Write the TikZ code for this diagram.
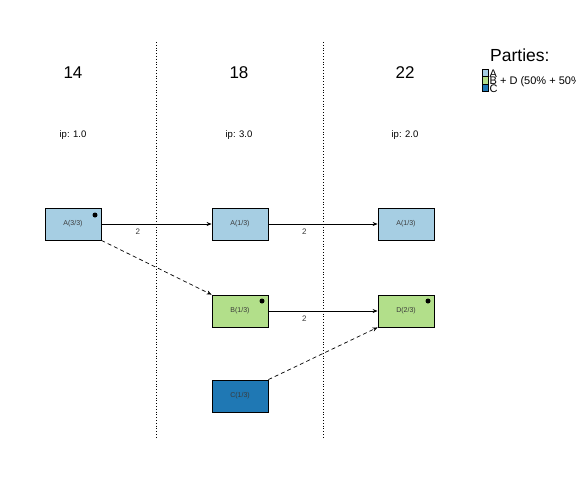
\documentclass[tikz,border=0pt]{standalone}
\usepackage{fontspec}
\setmainfont{Liberation Sans}
\usetikzlibrary{arrows.meta}
\definecolor{cA}{HTML}{A6CEE3}
\definecolor{cB}{HTML}{B2DF8A}
\definecolor{cC}{HTML}{1F78B4}
\definecolor{lbl}{HTML}{3A3A3A}
\begin{document}
\begin{tikzpicture}[x=1pt,y=-1pt,
  party/.style={draw=black, line width=0.8pt, minimum width=56pt, minimum height=32pt, inner sep=0pt, font=\fontsize{7}{8}\selectfont, text=lbl},
  hdr/.style={font=\fontsize{17}{18}\selectfont},
  ipl/.style={font=\fontsize{9.5}{11}\selectfont},
  divider/.style={dotted, line width=0.8pt},
  flow/.style={-{Stealth[length=5pt,width=4pt]}, line width=0.7pt},
  dflow/.style={-{Stealth[length=5pt,width=4pt]}, line width=0.7pt, dash pattern=on 4pt off 3pt},
  elbl/.style={font=\fontsize{8}{9}\selectfont, text=lbl},
  dotmark/.style={circle, fill=black, inner sep=0pt, minimum size=5pt},
  legsq/.style={draw=black, line width=0.6pt, minimum width=6pt, minimum height=7.3pt, inner sep=0pt},
  legtx/.style={font=\fontsize{11}{11}\selectfont, anchor=west, inner sep=0pt}
]
\useasboundingbox (0,0) rectangle (576,480);
\fill[white] (0,0) rectangle (576,480);

% dividers
\coordinate (d1t) at (156,42); \coordinate (d1b) at (156,438);
\coordinate (d2t) at (323,42); \coordinate (d2b) at (323,438);
\draw[divider] (d1t) -- (d1b);
\draw[divider] (d2t) -- (d2b);

% headers
\node[hdr] (h1) at (73,73) {14};
\node[hdr] (h2) at (239,73) {18};
\node[hdr] (h3) at (405,73) {22};
\node[ipl] (i1) at (73,135) {ip: 1.0};
\node[ipl] (i2) at (239,135) {ip: 3.0};
\node[ipl] (i3) at (405,135) {ip: 2.0};

% boxes
\node[party, fill=cA] (a1) at (73,224) {A(3/3)};
\node[party, fill=cA] (a2) at (240,224) {A(1/3)};
\node[party, fill=cA] (a3) at (406,224) {A(1/3)};
\node[party, fill=cB] (b2) at (240,311) {B(1/3)};
\node[party, fill=cB] (d3) at (406,311) {D(2/3)};
\node[party, fill=cC] (c2) at (240,396) {C(1/3)};

\node[dotmark] (m1) at (95,215) {};
\node[dotmark] (m2) at (262,301) {};
\node[dotmark] (m3) at (428,301) {};

% connectors
\draw[flow] (a1.east) -- (a2.west) node[elbl, pos=0.33, below=1.5pt] (l1) {2};
\draw[flow] (a2.east) -- (a3.west) node[elbl, pos=0.33, below=1.5pt] (l2) {2};
\draw[flow] (b2.east) -- (d3.west) node[elbl, pos=0.33, below=1.5pt] (l3) {2};
\draw[dflow] (a1.south east) -- (b2.north west);
\draw[dflow] (c2.north east) -- (d3.south west);

% legend
\node[font=\fontsize{17.5}{18}\selectfont, anchor=west, inner sep=0pt] (lt) at (490,55) {Parties:};
\node[legsq, fill=cA] (la) at (485,73) {};
\node[legsq, fill=cB] (lb) at (485,80.3) {};
\node[legsq, fill=cC] (lc) at (485,87.6) {};
\node[legtx] (ta) at (489.5,74) {A};
\node[legtx] (tb) at (489.5,81.5) {B + D (50\% + 50\%)};
\node[legtx] (tc) at (489.5,89) {C};
\end{tikzpicture}
\end{document}
